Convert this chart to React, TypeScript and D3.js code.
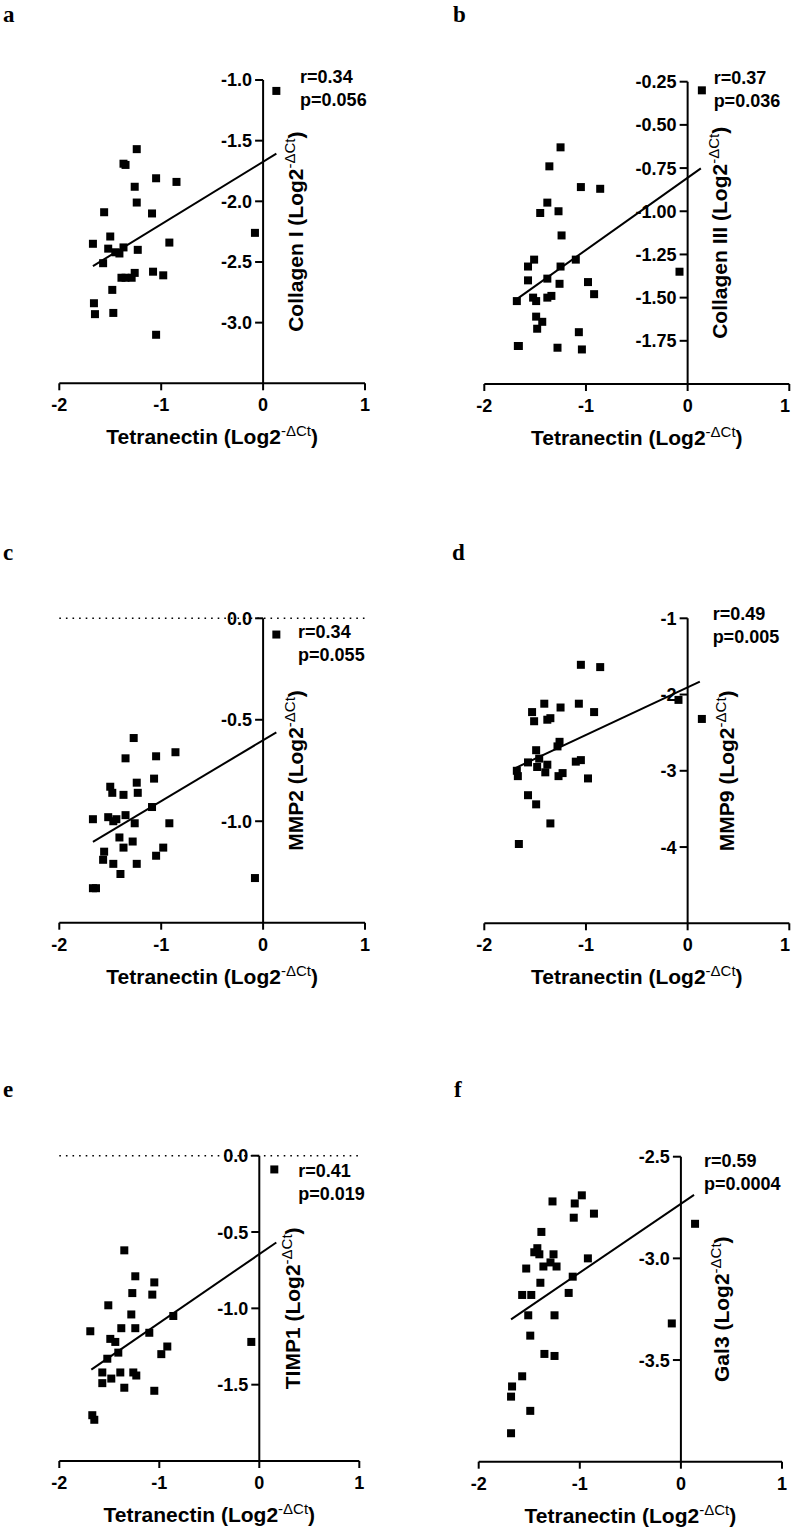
import React from 'react';
import * as d3 from 'd3';

// ---------- DATA ----------
const tetranectinA = [0.13,-1.24,-1.37,-1.35,-1.05,-0.85,-1.26,-1.24,-1.56,-1.09,-0.08,-1.50,-1.67,-0.92,-1.52,-1.45,-1.41,-1.37,-1.23,-1.57,-1.39,-1.35,-1.29,-1.26,-1.08,-0.98,-1.48,-1.66,-1.65,-1.47,-1.05];
const collagenI = [-1.09,-1.57,-1.69,-1.70,-1.81,-1.84,-1.88,-2.01,-2.09,-2.10,-2.26,-2.29,-2.35,-2.34,-2.39,-2.42,-2.43,-2.38,-2.40,-2.51,-2.63,-2.63,-2.63,-2.59,-2.58,-2.61,-2.73,-2.84,-2.93,-2.92,-3.10];

const tetranectinB = [0.14,-1.25,-1.36,-1.05,-0.86,-1.38,-1.45,-1.27,-1.24,-0.08,-1.51,-1.57,-1.25,-1.10,-1.57,-1.38,-1.26,-0.98,-0.92,-1.68,-1.52,-1.49,-1.38,-1.34,-1.49,-1.43,-1.48,-1.07,-1.67,-1.66,-1.28,-1.04];
const collagenIII = [-0.30,-0.63,-0.74,-0.86,-0.87,-0.95,-1.01,-1.00,-1.14,-1.35,-1.28,-1.32,-1.32,-1.28,-1.40,-1.39,-1.42,-1.41,-1.48,-1.52,-1.50,-1.52,-1.50,-1.49,-1.61,-1.64,-1.68,-1.70,-1.78,-1.78,-1.79,-1.80];

const tetranectinC = [0.13,-1.27,-1.35,-1.05,-0.86,-1.07,-1.50,-1.24,-1.48,-1.37,-1.23,-1.09,-1.67,-1.52,-1.47,-1.44,-1.35,-1.26,-0.92,-1.41,-1.28,-1.37,-1.56,-1.57,-0.98,-1.05,-1.47,-1.24,-1.40,-1.67,-1.64,-0.08];
const mmp2 = [-0.08,-0.59,-0.69,-0.68,-0.66,-0.79,-0.83,-0.81,-0.86,-0.87,-0.86,-0.93,-0.99,-0.98,-1.00,-0.99,-0.97,-1.01,-1.01,-1.08,-1.10,-1.13,-1.15,-1.19,-1.13,-1.17,-1.21,-1.21,-1.26,-1.33,-1.33,-1.28];

const tetranectinD = [-1.05,-0.86,-0.09,0.14,-1.41,-1.25,-1.07,-0.92,-1.53,-1.51,-1.38,-1.35,-1.26,-1.28,-1.49,-1.57,-1.46,-1.38,-1.48,-1.40,-1.10,-1.05,-1.68,-1.67,-1.27,-1.23,-0.98,-1.57,-1.49,-1.35,-1.66];
const mmp9 = [-1.61,-1.64,-2.07,-2.32,-2.12,-2.17,-2.12,-2.23,-2.23,-2.35,-2.33,-2.31,-2.62,-2.68,-2.73,-2.89,-2.84,-2.92,-2.95,-3.02,-2.88,-2.86,-3.00,-3.07,-3.07,-3.03,-3.10,-3.32,-3.44,-3.69,-3.96];

const tetranectinE = [0.15,-1.35,-1.24,-1.05,-1.27,-1.07,-1.51,-1.28,-0.86,-1.69,-1.38,-1.24,-1.10,-0.08,-1.49,-1.44,-1.41,-0.92,-0.98,-1.52,-1.57,-1.39,-1.26,-1.23,-1.48,-1.57,-1.35,-1.05,-1.67,-1.65];
const timp1 = [-0.09,-0.62,-0.79,-0.83,-0.90,-0.91,-0.98,-1.04,-1.05,-1.15,-1.13,-1.13,-1.16,-1.22,-1.20,-1.22,-1.29,-1.25,-1.30,-1.33,-1.42,-1.42,-1.42,-1.44,-1.46,-1.49,-1.52,-1.54,-1.70,-1.73];

const tetranectinF = [0.14,-1.27,-1.05,-0.98,-1.06,-0.86,-1.38,-1.42,-1.45,-1.40,-1.26,-0.92,-1.53,-1.36,-1.29,-1.23,-1.39,-1.07,-1.57,-1.48,-1.11,-1.51,-1.25,-0.09,-1.49,-1.35,-1.25,-1.57,-1.67,-1.68,-1.49,-1.68];
const gal3 = [-2.83,-2.72,-2.73,-2.69,-2.80,-2.78,-2.87,-2.95,-2.97,-2.98,-2.98,-3.00,-3.05,-3.04,-3.02,-3.04,-3.12,-3.09,-3.18,-3.18,-3.17,-3.28,-3.28,-3.32,-3.38,-3.47,-3.48,-3.58,-3.63,-3.68,-3.75,-3.86];

const panelLetters = ['a', 'b', 'c', 'd', 'e', 'f'];
const yTitles = ['Collagen I', 'Collagen III', 'MMP2', 'MMP9', 'TIMP1', 'Gal3'];
const rTexts = ['r=0.34', 'r=0.37', 'r=0.34', 'r=0.49', 'r=0.41', 'r=0.59'];
const pTexts = ['p=0.056', 'p=0.036', 'p=0.055', 'p=0.005', 'p=0.019', 'p=0.0004'];
const yDomains = [[-3.5, -1.0], [-2.0, -0.25], [-1.5, 0], [-5, -1], [-2.0, 0], [-4.0, -2.5]];
const yTickValues = [
  [-1.0, -1.5, -2.0, -2.5, -3.0],
  [-0.25, -0.5, -0.75, -1.0, -1.25, -1.5, -1.75],
  [0.0, -0.5, -1.0],
  [-1, -2, -3, -4],
  [0.0, -0.5, -1.0, -1.5],
  [-2.5, -3.0, -3.5],
];
const yTickFormats = ['.1f', '.2f', '.1f', 'd', '.1f', '.1f'];
const xDomain = [-2, 1];
const xTickValues = [-2, -1, 0, 1];
const fitSlopes = [0.515, 0.418, 0.30, 0.624, 0.45, 0.338];
const fitIntercepts = [-1.674, -0.806, -0.601, -1.906, -0.645, -2.732];
const fitX0 = [-1.67, -1.67, -1.67, -1.69, -1.68, -1.68];
const fitX1 = [0.13, 0.13, 0.13, 0.12, 0.17, 0.13];
const zeroRefLine = [false, false, true, false, true, false];

const xSeries = [tetranectinA, tetranectinB, tetranectinC, tetranectinD, tetranectinE, tetranectinF];
const ySeries = [collagenI, collagenIII, mmp2, mmp9, timp1, gal3];

// ---------- LAYOUT ----------
const W = 792;
const H = 1529;
const layouts = [
  { x0: 59.3, x1: 365, y0: 80, y1: 383.3, lx: 3, ly: 22, sdx: 37, sdy: 3, tdx: 40 },
  { x0: 484.3, x1: 789.3, y0: 81.7, y1: 384, lx: 453, ly: 22, sdx: 26, sdy: 2, tdx: 39 },
  { x0: 59.3, x1: 365, y0: 618.3, y1: 922.7, lx: 3, ly: 560, sdx: 35, sdy: 20, tdx: 40 },
  { x0: 484.3, x1: 789.3, y0: 618.3, y1: 923.3, lx: 452, ly: 560, sdx: 25, sdy: 2, tdx: 46 },
  { x0: 59.3, x1: 359.3, y0: 1155.7, y1: 1461, lx: 3, ly: 1097, sdx: 39, sdy: 21, tdx: 41 },
  { x0: 478.7, x1: 782, y0: 1156.7, y1: 1461.7, lx: 454, ly: 1097, sdx: 23, sdy: 10, tdx: 48 },
];

const locale = d3.formatLocale({ decimal: '.', thousands: ',', grouping: [3], currency: ['', ''], minus: '-' });
const FONT = 'Liberation Sans, Arial, sans-serif';

function Panel({ i }: { i: number }) {
  const L = layouts[i];
  const x = d3.scaleLinear().domain(xDomain).range([L.x0, L.x1]);
  const y = d3.scaleLinear().domain(yDomains[i]).range([L.y1, L.y0]);
  const ax = x(0);
  const fmt = locale.format(yTickFormats[i]);
  const xs = xSeries[i];
  const ys = ySeries[i];
  const line = d3.line<number>().x((v) => x(v)).y((v) => y(fitSlopes[i] * v + fitIntercepts[i]));
  const midY = (L.y0 + L.y1) / 2;
  const sq = 8;
  return (
    <g>
      <text x={L.lx} y={L.ly} fontFamily="Liberation Serif, Times New Roman, serif" fontWeight="bold" fontSize={23}>
        {panelLetters[i]}
      </text>
      {zeroRefLine[i] && (
        <line x1={x(xDomain[0])} x2={x(xDomain[1])} y1={y(0)} y2={y(0)} stroke="#000" strokeWidth={1.6} strokeDasharray="1.6 5" />
      )}
      {/* x axis */}
      <line x1={L.x0} x2={L.x1} y1={L.y1} y2={L.y1} stroke="#000" strokeWidth={2} />
      {xTickValues.map((t) => (
        <g key={'xt' + t}>
          <line x1={x(t)} x2={x(t)} y1={L.y1} y2={L.y1 + 7} stroke="#000" strokeWidth={2} />
          <text x={Math.min(x(t), W - 7)} y={L.y1 + 28} textAnchor="middle" fontFamily={FONT} fontWeight="bold" fontSize={18}>
            {locale.format('d')(t)}
          </text>
        </g>
      ))}
      {/* y axis */}
      <line x1={ax} x2={ax} y1={L.y0} y2={L.y1} stroke="#000" strokeWidth={2} />
      {yTickValues[i].map((t) => (
        <g key={'yt' + t}>
          <line x1={ax - 8} x2={ax} y1={y(t)} y2={y(t)} stroke="#000" strokeWidth={2} />
          <text x={ax - 11} y={y(t)} dy="0.36em" textAnchor="end" fontFamily={FONT} fontWeight="bold" fontSize={18}>
            {fmt(t)}
          </text>
        </g>
      ))}
      {/* fit line */}
      <path d={line([fitX0[i], fitX1[i]]) || ''} stroke="#000" strokeWidth={2} fill="none" />
      {/* points */}
      {xs.map((xv, k) => (
        <rect key={k} x={x(xv) - sq / 2} y={y(ys[k]) - sq / 2} width={sq} height={sq} fill="#000" />
      ))}
      {/* stats */}
      <text x={ax + L.sdx} y={L.y0 + L.sdy} fontFamily={FONT} fontWeight="bold" fontSize={18}>{rTexts[i]}</text>
      <text x={ax + L.sdx} y={L.y0 + L.sdy + 23} fontFamily={FONT} fontWeight="bold" fontSize={18}>{pTexts[i]}</text>
      {/* x title */}
      <text x={(L.x0 + L.x1) / 2} y={L.y1 + 61} textAnchor="middle" fontFamily={FONT} fontWeight="bold" fontSize={21}>
        Tetranectin (Log2
        <tspan dy={-8} fontSize={15} fontWeight="normal">-ΔCt</tspan>
        <tspan dy={8}>)</tspan>
      </text>
      {/* y title */}
      <text
        transform={`translate(${ax + L.tdx},${midY}) rotate(-90)`}
        textAnchor="middle"
        fontFamily={FONT}
        fontWeight="bold"
        fontSize={21}
      >
        {yTitles[i]} (Log2
        <tspan dy={-8} fontSize={15} fontWeight="normal">-ΔCt</tspan>
        <tspan dy={8}>)</tspan>
      </text>
    </g>
  );
}

export default function App() {
  return (
    <svg width={W} height={H} style={{ position: 'absolute', left: 0, top: 0, background: '#fff' }}>
      <rect x={0} y={0} width={W} height={H} fill="#fff" />
      {panelLetters.map((_, i) => (
        <Panel key={i} i={i} />
      ))}
    </svg>
  );
}
